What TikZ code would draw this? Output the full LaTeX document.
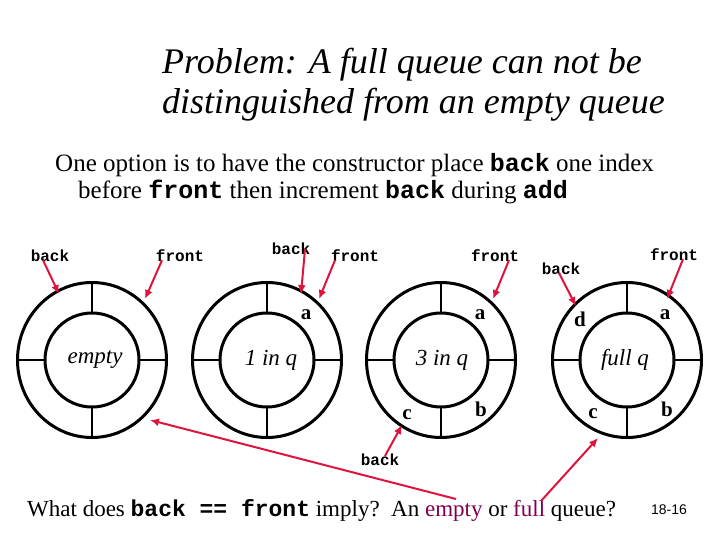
\documentclass[tikz,border=0pt]{standalone}
\usepackage{fontspec}
\setmainfont{Liberation Serif}
\setmonofont{Liberation Mono}
\setsansfont{Liberation Sans}
\usetikzlibrary{arrows.meta}
\definecolor{ptrred}{RGB}{222,20,60}
\definecolor{plum}{RGB}{128,0,80}
\tikzset{
  ring/.style={line width=3pt},
  spoke/.style={line width=2pt},
  ptr/.style={draw=ptrred, line width=2pt, -{Latex[length=9pt,width=8pt]}},
  ptrlabel/.style={font=\fontsize{16}{18}\selectfont\ttfamily\bfseries, inner sep=0pt},
  cell/.style={font=\fontsize{21}{24}\selectfont\bfseries, inner sep=0pt},
  mid/.style={font=\fontsize{23}{26}\selectfont\itshape, inner sep=0pt},
}
\begin{document}
\begin{tikzpicture}[x=1pt,y=-1pt]
\useasboundingbox (0,0) rectangle (720,540);
% title
\node[anchor=west, align=left, font=\fontsize{36}{40}\selectfont\itshape, inner sep=0pt] (title) at (162,85)
  {Problem: A full queue can not be\\distinguished from an empty queue};
% body
\node[anchor=west, inner sep=0pt, font=\fontsize{25}{27}\selectfont] (l1) at (55,165)
  {One option is to have the constructor place \texttt{\textbf{back}} one index};
\node[anchor=west, inner sep=0pt, font=\fontsize{25}{27}\selectfont] (l2) at (78,192)
  {before \texttt{\textbf{front}} then increment \texttt{\textbf{back}} during \texttt{\textbf{add}}};
% rings
\foreach \n/\x in {1/92,2/267,3/441,4/627}{
  \coordinate (c\n) at (\x,360);
  \draw[ring] (c\n) ellipse [x radius=74.5, y radius=77.5];
  \draw[ring] (c\n) circle [radius=47];
  \draw[spoke] ([yshift=-77.5]c\n) -- ([yshift=-47]c\n);
  \draw[spoke] ([yshift=77.5]c\n) -- ([yshift=47]c\n);
  \draw[spoke] ([xshift=-74.5]c\n) -- ([xshift=-47]c\n);
  \draw[spoke] ([xshift=74.5]c\n) -- ([xshift=47]c\n);
}
% centre labels
\node[mid] (m1) at (95,360) {empty};
\node[mid] (m2) at (271,360) {1 in q};
\node[mid] (m3) at (442,360) {3 in q};
\node[mid] (m4) at (625,360) {full q};
% cells
\node[cell] (a2) at (306,315) {a};
\node[cell] (a3) at (480,315) {a};
\node[cell] (b3) at (481,409) {b};
\node[cell] (c3) at (407,415) {c};
\node[cell] (a4) at (665,315) {a};
\node[cell] (d4) at (580,319) {d};
\node[cell] (b4) at (667,409) {b};
\node[cell] (c4) at (593,414) {c};
% pointer labels
\node[ptrlabel] (pb1) at (50,256) {back};
\node[ptrlabel] (pf1) at (180,256) {front};
\node[ptrlabel] (pb2) at (291,249) {back};
\node[ptrlabel] (pf2) at (355,256) {front};
\node[ptrlabel] (pf3) at (495,256) {front};
\node[ptrlabel] (pb4) at (561,269) {back};
\node[ptrlabel] (pf4) at (674,255) {front};
\node[ptrlabel] (pb3) at (380,460) {back};
% arrow heads
\coordinate (h1) at (59,294);
\coordinate (h2) at (145,299);
\coordinate (h3) at (301,294);
\coordinate (h4) at (319,299);
\coordinate (h5) at (493,299);
\coordinate (h6) at (576,306);
\coordinate (h7) at (667,299);
\coordinate (h8) at (402,425);
\coordinate (h9) at (150,420);
\coordinate (h10) at (598,438);
\draw[ptr] ([xshift=-7pt,yshift=2pt]pb1.south) -- (h1);
\draw[ptr] ([xshift=-18pt,yshift=2pt]pf1.south) -- (h2);
\draw[ptr] ([xshift=14pt,yshift=6pt]pb2.south) -- (h3);
\draw[ptr] ([xshift=-20pt,yshift=2pt]pf2.south) -- (h4);
\draw[ptr] ([xshift=14pt,yshift=2pt]pf3.south) -- (h5);
\draw[ptr] ([xshift=-2pt,yshift=2pt]pb4.south) -- (h6);
\draw[ptr] ([xshift=9pt,yshift=2pt]pf4.south) -- (h7);
\draw[ptr] ([xshift=5pt,yshift=-2pt]pb3.north) -- (h8);
% bottom line
\node[anchor=west, inner sep=0pt, font=\fontsize{23}{27}\selectfont] (q) at (27,510)
  {What does \texttt{\textbf{back == front}} imply?\ \ An \textcolor{plum}{empty} or \textcolor{plum}{full} queue?};
\node[inner sep=0pt, font=\fontsize{14}{16}\selectfont\sffamily] (pg) at (669,510) {18-16};
\coordinate (t9) at (456,499);
\coordinate (t10) at (541,501);
\draw[ptr] (t9) -- (h9);
\draw[ptr] (t10) -- (h10);
\end{tikzpicture}
\end{document}
